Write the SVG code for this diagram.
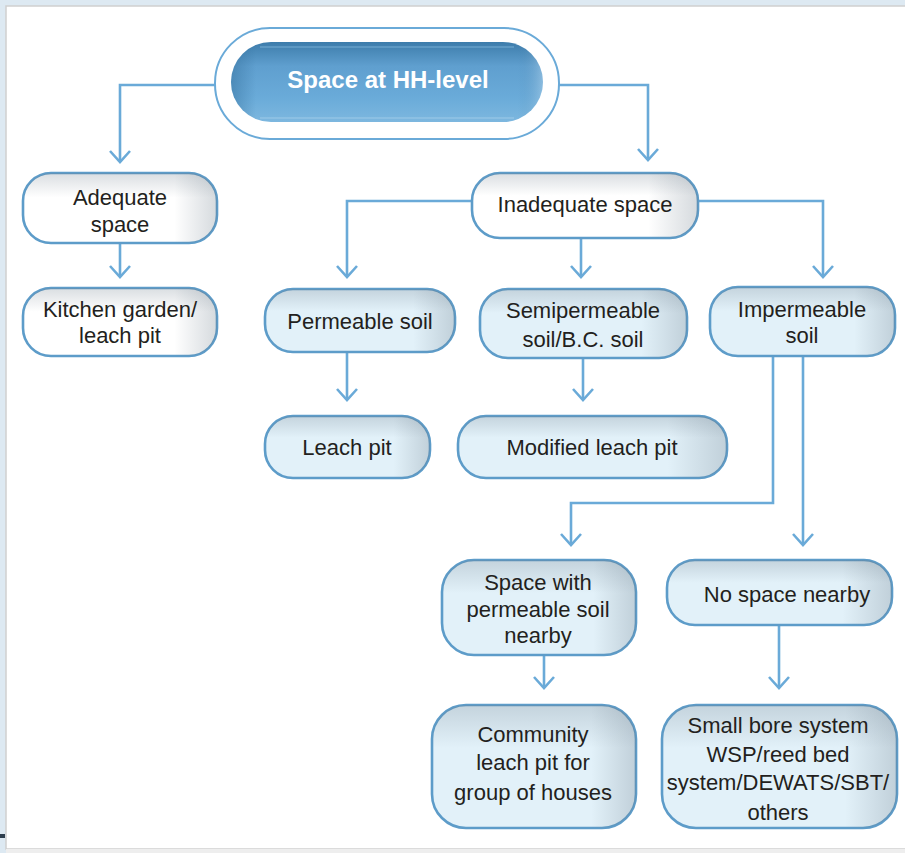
<svg xmlns="http://www.w3.org/2000/svg" width="905" height="853" viewBox="0 0 905 853">
<defs>
<style>
.ln{fill:none;stroke:#6aaad8;stroke-width:2.6;marker-end:url(#arr)}
.box{stroke:#5d9cc9;stroke-width:2.6}
.wf{fill:#ffffff}
.bf{fill:#e2f1f9}
.sh{fill:url(#shR);stroke:none}
.st{fill:url(#shT);stroke:none}
.t{font-family:"Liberation Sans",Arial,sans-serif;font-size:22px;fill:#231f20;text-anchor:middle}
.title{font-family:"Liberation Sans",Arial,sans-serif;font-size:24px;font-weight:bold;fill:#ffffff;text-anchor:middle}
</style>
<marker id="arr" markerUnits="userSpaceOnUse" markerWidth="30" markerHeight="30" viewBox="-15 -15 30 30" refX="0" refY="0" orient="auto">
<path d="M-11,-10 L0,0 L-11,10" fill="none" stroke="#6aaad8" stroke-width="2.6"/>
</marker>
<linearGradient id="shR" x1="0" y1="0" x2="1" y2="0">
<stop offset="0" stop-color="#6a7a88" stop-opacity="0"/>
<stop offset="0.78" stop-color="#6a7a88" stop-opacity="0"/>
<stop offset="1" stop-color="#6a7a88" stop-opacity="0.28"/>
</linearGradient>
<linearGradient id="shT" x1="0" y1="0" x2="0" y2="1">
<stop offset="0" stop-color="#6a7a88" stop-opacity="0.25"/>
<stop offset="0.35" stop-color="#6a7a88" stop-opacity="0"/>
<stop offset="1" stop-color="#6a7a88" stop-opacity="0"/>
</linearGradient>
<linearGradient id="topG" x1="0" y1="0" x2="0" y2="1">
<stop offset="0" stop-color="#3d7cab"/>
<stop offset="0.3" stop-color="#5f9fcf"/>
<stop offset="0.7" stop-color="#6aabd9"/>
<stop offset="1" stop-color="#7db7df"/>
</linearGradient>
<linearGradient id="topL" x1="0" y1="0" x2="1" y2="0">
<stop offset="0" stop-color="#2f6a96" stop-opacity="0.45"/>
<stop offset="0.08" stop-color="#2f6a96" stop-opacity="0"/>
<stop offset="0.92" stop-color="#2f6a96" stop-opacity="0"/>
<stop offset="1" stop-color="#ffffff" stop-opacity="0.25"/>
</linearGradient>
</defs>

<!-- page frame -->
<rect x="0" y="0" width="905" height="853" fill="#dde9f2"/>
<rect x="6" y="6" width="905" height="843" fill="#ffffff" stroke="#cfcfcf" stroke-width="1.5"/>
<rect x="6" y="849" width="899" height="4" fill="#eeeeee"/>
<rect x="0" y="834" width="5" height="4" fill="#2e3e4e"/>

<g id="connectors">
<path class="ln" d="M215,85 H120 V162"/>
<path class="ln" d="M559,85 H648 V160"/>
<path class="ln" d="M120,243 V277"/>
<path class="ln" d="M472,201 H347 V277"/>
<path class="ln" d="M581,238 V277"/>
<path class="ln" d="M698,201 H823 V277"/>
<path class="ln" d="M347,352 V400"/>
<path class="ln" d="M583,358 V400"/>
<path class="ln" d="M773,356 V503 H571 V545"/>
<path class="ln" d="M803,356 V545"/>
<path class="ln" d="M544,655 V688"/>
<path class="ln" d="M779,625 V688"/>
</g>

<g id="n-top">
<rect x="215" y="28" width="344" height="111" rx="55" fill="#ffffff" stroke="#6aaad8" stroke-width="2"/>
<rect x="231" y="42" width="312" height="80" rx="40" fill="url(#topG)"/>
<rect x="231" y="42" width="312" height="80" rx="40" fill="url(#topL)"/>
<line x1="260" y1="47" x2="514" y2="47" stroke="#8cc0e4" stroke-width="1" opacity="0.7"/>
<line x1="260" y1="118" x2="514" y2="118" stroke="#a8d0ec" stroke-width="1" opacity="0.8"/>
<text class="title" x="388" y="88">Space at HH-level</text>
</g>

<g id="n-adequate">
<rect class="box wf" x="23" y="173" width="194" height="70" rx="28"/>
<rect class="sh" x="23" y="173" width="194" height="70" rx="28"/>
<rect class="st" x="23" y="173" width="194" height="70" rx="28"/>
<text class="t" x="120" y="205">Adequate</text>
<text class="t" x="120" y="232">space</text>
</g>

<g id="n-kitchen">
<rect class="box wf" x="23" y="288" width="194" height="68" rx="28"/>
<rect class="sh" x="23" y="288" width="194" height="68" rx="28"/>
<rect class="st" x="23" y="288" width="194" height="68" rx="28"/>
<text class="t" x="120" y="317">Kitchen garden/</text>
<text class="t" x="120" y="343">leach pit</text>
</g>

<g id="n-inadequate">
<rect class="box wf" x="472" y="173" width="226" height="65" rx="28"/>
<rect class="sh" x="472" y="173" width="226" height="65" rx="28"/>
<rect class="st" x="472" y="173" width="226" height="65" rx="28"/>
<text class="t" x="585" y="212">Inadequate space</text>
</g>

<g id="n-permeable">
<rect class="box bf" x="265" y="289" width="190" height="63" rx="28"/>
<rect class="sh" x="265" y="289" width="190" height="63" rx="28"/>
<rect class="st" x="265" y="289" width="190" height="63" rx="28"/>
<text class="t" x="360" y="329">Permeable soil</text>
</g>

<g id="n-semipermeable">
<rect class="box bf" x="480" y="289" width="207" height="69" rx="28"/>
<rect class="sh" x="480" y="289" width="207" height="69" rx="28"/>
<rect class="st" x="480" y="289" width="207" height="69" rx="28"/>
<text class="t" x="583" y="318">Semipermeable</text>
<text class="t" x="583" y="347">soil/B.C. soil</text>
</g>

<g id="n-impermeable">
<rect class="box bf" x="710" y="287" width="185" height="69" rx="28"/>
<rect class="sh" x="710" y="287" width="185" height="69" rx="28"/>
<rect class="st" x="710" y="287" width="185" height="69" rx="28"/>
<text class="t" x="802" y="317">Impermeable</text>
<text class="t" x="802" y="343">soil</text>
</g>

<g id="n-leachpit">
<rect class="box bf" x="265" y="416" width="165" height="62" rx="28"/>
<rect class="sh" x="265" y="416" width="165" height="62" rx="28"/>
<rect class="st" x="265" y="416" width="165" height="62" rx="28"/>
<text class="t" x="347" y="455">Leach pit</text>
</g>

<g id="n-modified">
<rect class="box bf" x="458" y="416" width="269" height="62" rx="28"/>
<rect class="sh" x="458" y="416" width="269" height="62" rx="28"/>
<rect class="st" x="458" y="416" width="269" height="62" rx="28"/>
<text class="t" x="592" y="455">Modified leach pit</text>
</g>

<g id="n-spacewith">
<rect class="box bf" x="442" y="560" width="194" height="95" rx="32"/>
<rect class="sh" x="442" y="560" width="194" height="95" rx="32"/>
<rect class="st" x="442" y="560" width="194" height="95" rx="32"/>
<text class="t" x="538" y="590">Space with</text>
<text class="t" x="538" y="617">permeable soil</text>
<text class="t" x="538" y="643">nearby</text>
</g>

<g id="n-nospace">
<rect class="box bf" x="667" y="560" width="225" height="65" rx="28"/>
<rect class="sh" x="667" y="560" width="225" height="65" rx="28"/>
<rect class="st" x="667" y="560" width="225" height="65" rx="28"/>
<text class="t" x="787" y="602">No space nearby</text>
</g>

<g id="n-community">
<rect class="box bf" x="432" y="705" width="204" height="123" rx="34"/>
<rect class="sh" x="432" y="705" width="204" height="123" rx="34"/>
<rect class="st" x="432" y="705" width="204" height="123" rx="34"/>
<text class="t" x="533" y="742">Community</text>
<text class="t" x="533" y="770">leach pit for</text>
<text class="t" x="533" y="800">group of houses</text>
</g>

<g id="n-smallbore">
<rect class="box bf" x="662" y="705" width="235" height="123" rx="34"/>
<rect class="sh" x="662" y="705" width="235" height="123" rx="34"/>
<rect class="st" x="662" y="705" width="235" height="123" rx="34"/>
<text class="t" x="778" y="733">Small bore system</text>
<text class="t" x="778" y="762">WSP/reed bed</text>
<text class="t" x="778" y="790">system/DEWATS/SBT/</text>
<text class="t" x="778" y="820">others</text>
</g>
</svg>
